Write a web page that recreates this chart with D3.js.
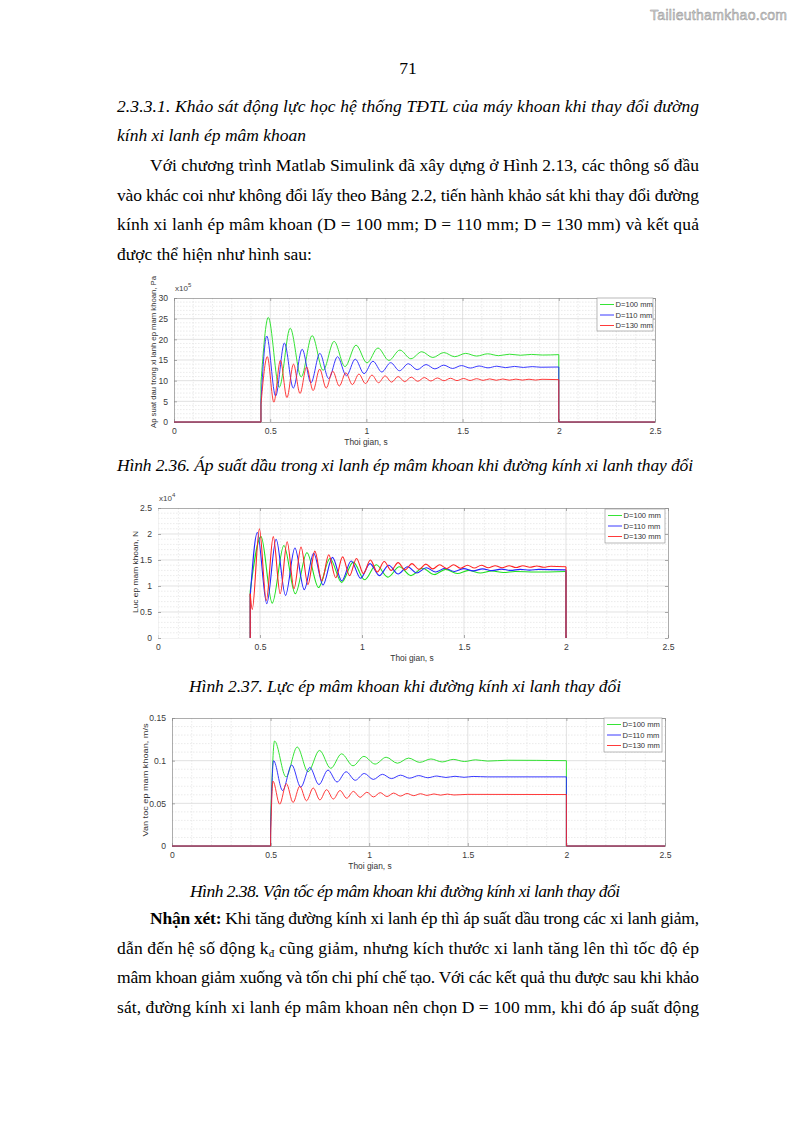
<!DOCTYPE html>
<html>
<head>
<meta charset="utf-8">
<script src="https://cdn.jsdelivr.net/npm/d3@7"></script>
<style>
  body { margin: 0; background: #fff; }
  svg { display: block; }
</style>
</head>
<body>
<script>
// ---- data (extrema of each response, time in s) ----
const xTicks = [0, 0.5, 1, 1.5, 2, 2.5];
const xTickLabels = ["0", "0.5", "1", "1.5", "2", "2.5"];
const legendLabels = ["D=100 mm", "D=110 mm", "D=130 mm"];

// Fig 2.36 pressure, x10^5 Pa
const pTicks = [0, 5, 10, 15, 20, 25, 30];
const pressure100 = [[0.452, 9.5], [0.49, 25.3], [0.547, 8.4], [0.604, 22.7], [0.661, 10.9], [0.718, 20.9], [0.775, 12.5], [0.832, 19.5], [0.889, 13.4], [0.946, 18.6], [1.003, 14.3], [1.06, 17.9], [1.117, 14.9], [1.174, 17.4], [1.231, 15.3], [1.288, 17.0], [1.345, 15.6], [1.402, 16.8], [1.459, 15.8], [1.516, 16.6], [1.573, 15.95], [1.63, 16.5], [1.687, 16.05], [1.744, 16.4], [1.801, 16.15], [1.858, 16.35], [1.915, 16.2], [2.0, 16.3]];
const pressure110 = [[0.452, 5.0], [0.482, 20.8], [0.528, 6.3], [0.574, 19.1], [0.62, 8.2], [0.666, 17.6], [0.712, 9.5], [0.758, 16.6], [0.804, 10.5], [0.85, 15.8], [0.896, 11.2], [0.942, 15.2], [0.988, 11.7], [1.034, 14.7], [1.08, 12.1], [1.126, 14.35], [1.172, 12.4], [1.218, 14.1], [1.264, 12.65], [1.31, 13.9], [1.356, 12.85], [1.402, 13.75], [1.448, 12.95], [1.494, 13.65], [1.54, 13.05], [1.586, 13.55], [1.632, 13.1], [1.678, 13.5], [1.724, 13.15], [1.77, 13.45], [1.816, 13.2], [1.862, 13.4], [1.908, 13.25], [2.0, 13.3]];
const pressure130 = [[0.452, 4.2], [0.485, 15.8], [0.519, 4.8], [0.553, 14.9], [0.587, 5.9], [0.621, 14.0], [0.655, 6.9], [0.689, 13.3], [0.723, 7.6], [0.757, 12.8], [0.791, 8.2], [0.825, 12.3], [0.859, 8.7], [0.893, 11.9], [0.927, 9.05], [0.961, 11.6], [0.995, 9.3], [1.029, 11.35], [1.063, 9.5], [1.097, 11.15], [1.131, 9.65], [1.165, 11.0], [1.199, 9.77], [1.233, 10.85], [1.267, 9.85], [1.301, 10.75], [1.335, 9.92], [1.369, 10.65], [1.403, 9.98], [1.437, 10.58], [1.471, 10.02], [1.505, 10.52], [1.539, 10.05], [1.573, 10.47], [1.607, 10.08], [1.641, 10.43], [1.675, 10.1], [1.709, 10.4], [1.743, 10.12], [1.777, 10.37], [1.811, 10.14], [1.845, 10.35], [1.879, 10.15], [1.913, 10.33], [2.0, 10.25]];

// Fig 2.37 force, x10^4 N
const fTicks = [0, 0.5, 1, 1.5, 2, 2.5];
const fTickLabels = ["0", "0.5", "1", "1.5", "2", "2.5"];
const force100 = [[0.452, 0.9], [0.505, 1.95], [0.56, 0.67], [0.617, 1.78], [0.673, 0.85], [0.73, 1.64], [0.787, 0.97], [0.843, 1.53], [0.9, 1.07], [0.957, 1.46], [1.013, 1.12], [1.07, 1.41], [1.127, 1.17], [1.183, 1.37], [1.24, 1.2], [1.297, 1.34], [1.353, 1.22], [1.41, 1.32], [1.467, 1.24], [1.523, 1.3], [1.58, 1.25], [1.637, 1.29], [1.693, 1.26], [1.75, 1.28], [1.85, 1.27], [2.0, 1.28]];
const force110 = [[0.452, 0.8], [0.487, 2.03], [0.533, 0.66], [0.579, 1.9], [0.625, 0.82], [0.671, 1.73], [0.717, 0.93], [0.763, 1.63], [0.809, 1.02], [0.855, 1.55], [0.901, 1.1], [0.947, 1.48], [0.993, 1.15], [1.039, 1.43], [1.085, 1.2], [1.131, 1.4], [1.177, 1.23], [1.223, 1.37], [1.269, 1.25], [1.315, 1.35], [1.361, 1.27], [1.407, 1.34], [1.453, 1.28], [1.499, 1.335], [1.545, 1.29], [1.591, 1.33], [1.637, 1.295], [1.683, 1.325], [1.729, 1.3], [1.775, 1.32], [1.821, 1.305], [1.867, 1.32], [2.0, 1.31]];
const force130 = [[0.452, 0.85], [0.462, 0.55], [0.497, 2.1], [0.531, 0.72], [0.565, 1.95], [0.599, 0.85], [0.633, 1.85], [0.667, 0.95], [0.701, 1.75], [0.735, 1.03], [0.769, 1.67], [0.803, 1.1], [0.837, 1.6], [0.871, 1.16], [0.905, 1.56], [0.939, 1.2], [0.973, 1.53], [1.007, 1.24], [1.041, 1.5], [1.075, 1.27], [1.109, 1.47], [1.143, 1.3], [1.177, 1.45], [1.211, 1.31], [1.245, 1.43], [1.279, 1.32], [1.313, 1.42], [1.347, 1.33], [1.381, 1.41], [1.415, 1.335], [1.449, 1.41], [1.483, 1.34], [1.517, 1.4], [1.551, 1.345], [1.585, 1.4], [1.619, 1.35], [1.653, 1.39], [1.687, 1.35], [1.721, 1.39], [1.755, 1.355], [1.789, 1.39], [1.823, 1.36], [1.857, 1.385], [1.891, 1.36], [1.925, 1.38], [2.0, 1.37]];

// Fig 2.38 velocity, m/s
const vTicks = [0, 0.05, 0.1, 0.15];
const vTickLabels = ["0", "0.05", "0.1", "0.15"];
const velocity100 = [[0.5, 0.03], [0.52, 0.123], [0.578, 0.081], [0.635, 0.116], [0.69, 0.087], [0.748, 0.112], [0.805, 0.091], [0.86, 0.108], [0.918, 0.094], [0.973, 0.105], [1.03, 0.096], [1.086, 0.104], [1.143, 0.097], [1.2, 0.103], [1.256, 0.098], [1.313, 0.102], [1.37, 0.0985], [1.426, 0.1015], [1.483, 0.099], [1.54, 0.101], [1.6, 0.0995], [1.7, 0.1005], [2.0, 0.1]];
const velocity110 = [[0.5, 0.02], [0.515, 0.1], [0.561, 0.065], [0.607, 0.095], [0.653, 0.069], [0.699, 0.092], [0.745, 0.072], [0.791, 0.089], [0.837, 0.075], [0.883, 0.087], [0.929, 0.077], [0.975, 0.085], [1.021, 0.078], [1.067, 0.084], [1.113, 0.079], [1.159, 0.083], [1.205, 0.0795], [1.251, 0.0825], [1.297, 0.08], [1.343, 0.082], [1.389, 0.0803], [1.435, 0.0817], [1.481, 0.0805], [1.527, 0.0815], [1.6, 0.081], [2.0, 0.081]];
const velocity130 = [[0.5, 0.01], [0.512, 0.076], [0.546, 0.049], [0.58, 0.073], [0.614, 0.051], [0.648, 0.07], [0.682, 0.053], [0.716, 0.068], [0.75, 0.054], [0.784, 0.066], [0.818, 0.055], [0.852, 0.065], [0.886, 0.056], [0.92, 0.064], [0.954, 0.057], [0.988, 0.063], [1.022, 0.0575], [1.056, 0.0625], [1.09, 0.058], [1.124, 0.062], [1.158, 0.0585], [1.192, 0.0615], [1.226, 0.059], [1.26, 0.0612], [1.294, 0.0593], [1.328, 0.061], [1.362, 0.0596], [1.396, 0.0608], [1.43, 0.0598], [1.5, 0.0605], [2.0, 0.0603]];

const colors = ["#1fe01f", "#2424ff", "#ff2424"];

const svg = d3.select("body").append("svg")
    .attr("width", 794)
    .attr("height", 1123);

const serif = "'Liberation Serif', 'Times New Roman', serif";
const sans = "'Liberation Sans', Arial, sans-serif";

// watermark
svg.append("text")
    .attr("x", 650).attr("y", 20)
    .attr("textLength", 137)
    .style("font-family", sans).style("font-size", "14px")
    .style("fill", "#d4d4d4").style("stroke", "#8f8f8f").style("stroke-width", 0.45)
    .text("Tailieuthamkhao.com");

// page number
svg.append("text")
    .attr("x", 408).attr("y", 74)
    .attr("text-anchor", "middle")
    .style("font-family", serif).style("font-size", "17.5px")
    .text("71");

// body text helper, w = justified width (null = natural)
function line(x, y, str, w, italic) {
    const t = svg.append("text")
        .attr("x", x).attr("y", y)
        .style("font-family", serif).style("font-size", "17.5px")
        .style("font-style", italic ? "italic" : "normal")
        .style("fill", "#000");
    if (w) t.attr("textLength", w).attr("lengthAdjust", "spacing");
    return t;
}

line(117, 112, "", 582, true).text("2.3.3.1. Khảo sát động lực học hệ thống TĐTL của máy khoan khi thay đổi đường");
line(117, 141, "", null, true).text("kính xi lanh ép mâm khoan");
line(150, 171, "", 549).text("Với chương trình Matlab Simulink đã xây dựng ở Hình 2.13, các thông số đầu");
line(117, 201, "", 582).text("vào khác coi như không đổi lấy theo Bảng 2.2, tiến hành khảo sát khi thay đổi đường");
line(117, 230, "", 582).text("kính xi lanh ép mâm khoan (D = 100 mm; D = 110 mm; D = 130 mm) và kết quả");
line(117, 260, "").text("được thể hiện như hình sau:");

function caption(y, str, w) {
    svg.append("text")
        .attr("x", 405).attr("y", y)
        .attr("text-anchor", "middle")
        .attr("textLength", w).attr("lengthAdjust", "spacing")
        .style("font-family", serif).style("font-size", "17.5px")
        .style("font-style", "italic").style("fill", "#000")
        .text(str);
}
caption(471, "Hình 2.36. Áp suất dầu trong xi lanh ép mâm khoan khi đường kính xi lanh thay đổi", 576);
caption(692, "Hình 2.37. Lực ép mâm khoan khi đường kính xi lanh thay đổi", 432);
caption(897, "Hình 2.38. Vận tốc ép mâm khoan khi đường kính xi lanh thay đổi", 430);

const l1 = line(150, 924, "", 549);
l1.append("tspan").style("font-weight", "bold").text("Nhận xét:");
l1.append("tspan").text(" Khi tăng đường kính xi lanh ép thì áp suất dầu trong các xi lanh giảm,");
const l2 = line(117, 954, "", 582);
l2.append("tspan").text("dẫn đến hệ số động k");
l2.append("tspan").attr("dy", 3).style("font-size", "11px").text("đ");
l2.append("tspan").attr("dy", -3).text(" cũng giảm, nhưng kích thước xi lanh tăng lên thì tốc độ ép");
line(117, 983, "", 582).text("mâm khoan giảm xuống và tốn chi phí chế tạo. Với các kết quả thu được sau khi khảo");
line(117, 1013, "", 582).text("sát, đường kính xi lanh ép mâm khoan nên chọn D = 100 mm, khi đó áp suất động");

// ---- chart helper ----
function drawChart(o) {
    const x = d3.scaleLinear().domain([0, 2.5]).range([o.left, o.right]);
    const y = d3.scaleLinear().domain([0, o.yMax]).range([o.bottom, o.top]);
    const g = svg.append("g");

    // minor grid
    const xMinor = d3.range(1, 25).map(i => i / 10).filter(v => Math.abs(v * 2 - Math.round(v * 2)) > 1e-6);
    g.selectAll(".xm").data(xMinor).enter().append("line")
        .attr("x1", d => x(d)).attr("x2", d => x(d))
        .attr("y1", o.top).attr("y2", o.bottom)
        .style("stroke", "#dedede").style("stroke-width", 0.6).style("stroke-dasharray", "1.5,1.5");
    const nMinor = Math.round(o.yMax / o.yMinor);
    const yMinor = d3.range(1, nMinor).map(i => i * o.yMinor)
        .filter(v => Math.abs(v / o.yStep - Math.round(v / o.yStep)) > 1e-6);
    g.selectAll(".ym").data(yMinor).enter().append("line")
        .attr("x1", o.left).attr("x2", o.right)
        .attr("y1", d => y(d)).attr("y2", d => y(d))
        .style("stroke", "#dedede").style("stroke-width", 0.6).style("stroke-dasharray", "1.5,1.5");

    // major grid
    g.selectAll(".xg").data(xTicks.slice(1, -1)).enter().append("line")
        .attr("x1", d => x(d)).attr("x2", d => x(d))
        .attr("y1", o.top).attr("y2", o.bottom)
        .style("stroke", "#d6d6d6").style("stroke-width", 0.7);
    g.selectAll(".yg").data(o.yTicks.slice(1, -1)).enter().append("line")
        .attr("x1", o.left).attr("x2", o.right)
        .attr("y1", d => y(d)).attr("y2", d => y(d))
        .style("stroke", "#d6d6d6").style("stroke-width", 0.7);

    // axes (ticks pointing inward, box on)
    const axColor = o.axisColor || "#8a8a8a";
    const styleAxis = sel => {
        sel.selectAll("path, line").style("stroke", axColor).style("stroke-width", 0.7);
        sel.selectAll("text").style("font-family", sans).style("font-size", "8.6px").style("fill", "#3a3a3a");
    };
    g.append("g").attr("transform", `translate(0,${o.bottom})`)
        .call(d3.axisBottom(x).tickValues(xTicks).tickFormat((d, i) => xTickLabels[i])
            .tickSizeInner(-3).tickSizeOuter(0).tickPadding(6))
        .call(styleAxis)
        .call(s => s.select("path").style("stroke", o.bottomAxis || axColor));
    g.append("g").attr("transform", `translate(0,${o.top})`)
        .call(d3.axisTop(x).tickValues(xTicks).tickFormat("").tickSizeInner(-3).tickSizeOuter(0))
        .call(styleAxis);
    g.append("g").attr("transform", `translate(${o.left},0)`)
        .call(d3.axisLeft(y).tickValues(o.yTicks).tickFormat((d, i) => o.yTickLabels[i])
            .tickSizeInner(-3).tickSizeOuter(0).tickPadding(6))
        .call(styleAxis)
        .call(s => s.select("path").style("stroke", o.leftAxis || axColor));
    g.append("g").attr("transform", `translate(${o.right},0)`)
        .call(d3.axisRight(y).tickValues(o.yTicks).tickFormat("").tickSizeInner(-3).tickSizeOuter(0))
        .call(styleAxis);

    // exponent label
    if (o.exponent) {
        const e = g.append("text").attr("x", o.left + 1).attr("y", o.top - 7)
            .style("font-family", sans).style("font-size", "8px").style("fill", "#444");
        e.append("tspan").text("x10");
        e.append("tspan").attr("dy", -4).style("font-size", "6px").text(o.exponent);
    }

    // axis labels
    g.append("text")
        .attr("x", o.xLabelX).attr("y", o.bottom + 23)
        .attr("text-anchor", "middle")
        .style("font-family", sans).style("font-size", "8.4px").style("fill", "#333")
        .text("Thoi gian, s");
    g.append("text")
        .attr("transform", `translate(${o.yLabelX},${o.yLabelY}) rotate(-90)`)
        .attr("text-anchor", "middle")
        .attr("textLength", o.yLabelLen).attr("lengthAdjust", "spacingAndGlyphs")
        .style("font-family", sans).style("font-size", "8px").style("fill", "#333")
        .text(o.yLabel);

    // curves
    const lin = d3.line().x(d => x(d[0])).y(d => y(d[1]));
    const smooth = d3.line().x(d => x(d[0])).y(d => y(d[1])).curve(d3.curveMonotoneX);
    o.series.forEach((s, i) => {
        const t0 = s[0][0], v0 = s[0][1];
        const last = s[s.length - 1];
        const pre = o.zeroLines ? [[0, 0], [t0, 0], [t0, v0]] : [[t0, 0], [t0, v0]];
        const post = o.zeroLines ? [[last[0], last[1]], [last[0], 0], [2.5, 0]] : [[last[0], last[1]], [last[0], 0]];
        [lin(pre), smooth(s), lin(post)].forEach(dPath => {
            g.append("path").attr("d", dPath)
                .style("fill", "none").style("stroke", colors[i]).style("stroke-width", o.lineWidth || 0.9);
        });
    });

    // legend
    const L = o.legend;
    g.append("rect").attr("x", L.x).attr("y", L.y).attr("width", L.w).attr("height", L.h)
        .style("fill", "#fff").style("stroke", "#8a8a8a").style("stroke-width", 0.6);
    const leg = g.selectAll(".legend").data(legendLabels).enter().append("g")
        .attr("transform", (d, i) => `translate(${L.x},${L.y + 6.5 + i * 10.5})`);
    leg.append("line").attr("x1", 3).attr("x2", 17).attr("y1", 0).attr("y2", 0)
        .style("stroke", (d, i) => colors[i]).style("stroke-width", 0.9);
    leg.append("text").attr("x", 18.5).attr("y", 2.8)
        .style("font-family", sans).style("font-size", "7.6px").style("fill", "#333")
        .text(d => d);
}

drawChart({
    left: 174, right: 655, top: 298, bottom: 422,
    yMax: 30, yStep: 5, yMinor: 1, yTicks: pTicks, yTickLabels: pTicks.map(String),
    exponent: "5", xLabelX: 366, yLabelX: 156, yLabelY: 352, yLabelLen: 152,
    yLabel: "Ap suat dau trong xi lanh ep mam khoan, Pa",
    series: [pressure100, pressure110, pressure130], zeroLines: true,
    legend: { x: 597, y: 298, w: 56, h: 33 }
});

drawChart({
    left: 158, right: 668, top: 508, bottom: 638,
    yMax: 2.5, yStep: 0.5, yMinor: 0.1, yTicks: fTicks, yTickLabels: fTickLabels,
    exponent: "4", xLabelX: 412, yLabelX: 138, yLabelY: 572, yLabelLen: 82,
    yLabel: "Luc ep mam khoan, N",
    series: [force100, force110, force130], zeroLines: false, lineWidth: 1.1,
    leftAxis: "#ececec", bottomAxis: "#ececec",
    legend: { x: 605, y: 509, w: 60, h: 34 }
});

drawChart({
    left: 172, right: 665, top: 718, bottom: 846,
    yMax: 0.15, yStep: 0.05, yMinor: 0.01, yTicks: vTicks, yTickLabels: vTickLabels,
    exponent: null, xLabelX: 370, yLabelX: 148, yLabelY: 780, yLabelLen: 113,
    yLabel: "Van toc ep mam khoan, m/s",
    series: [velocity100, velocity110, velocity130], zeroLines: true,
    legend: { x: 604, y: 718, w: 58, h: 34 }
});
</script>
</body>
</html>
